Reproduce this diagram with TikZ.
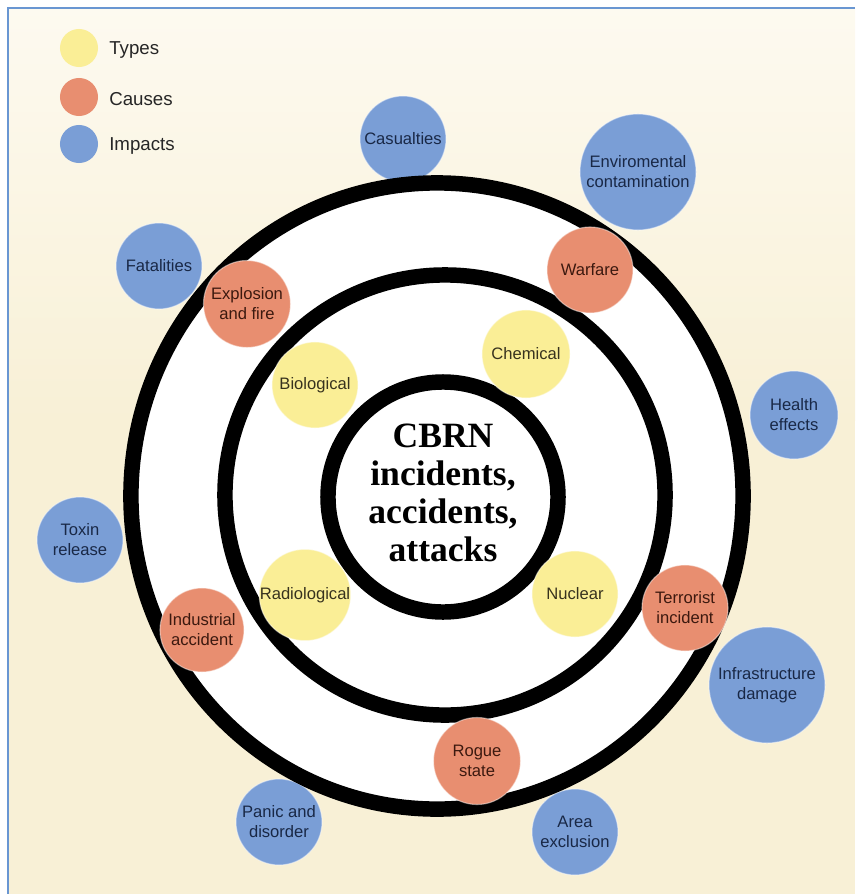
\documentclass[tikz,border=0pt]{standalone}
\usepackage{fontspec}
\setmainfont{Liberation Sans}
\newfontfamily\cbrnfont{Liberation Serif}
\definecolor{cream}{RGB}{248,240,214}
\definecolor{creamlight}{RGB}{253,250,240}
\definecolor{framecol}{RGB}{105,150,210}
\definecolor{typecol}{RGB}{250,238,150}
\definecolor{causecol}{RGB}{232,142,112}
\definecolor{impactcol}{RGB}{122,158,214}
\definecolor{typetext}{RGB}{55,50,30}
\definecolor{causetext}{RGB}{60,25,15}
\definecolor{impacttext}{RGB}{25,40,70}
\tikzset{
  bubble/.style={circle, inner sep=0pt, align=center, draw=white, draw opacity=0.45, line width=0.8pt,
    font=\fontsize{11.8}{14.2}\selectfont},
  typeb/.style={bubble, fill=typecol, text=typetext, minimum size=#1},
  causeb/.style={bubble, fill=causecol, text=causetext, minimum size=#1},
  impactb/.style={bubble, fill=impactcol, text=impacttext, minimum size=#1},
  legdot/.style={circle, inner sep=0pt, minimum size=0.95cm},
  legtext/.style={anchor=west, inner sep=0pt, text=black!85, font=\fontsize{13.3}{16}\selectfont},
  ring/.style={draw=black, line width=11pt},
  framel/.style={draw=framecol, line width=1.4pt}
}
\begin{document}
\begin{tikzpicture}[x=0.025cm,y=-0.025cm]
\useasboundingbox (0,0) rectangle (855,894);
% background
\fill[white] (0,0) rectangle (855,894);
\fill[cream] (8,8) rectangle (855,894);
\shade[top color=creamlight, bottom color=cream] (8,8) rectangle (855,420);
\draw[framel] (8,894) -- (8,8) -- (855,8);

% legend
\node[legdot, fill=typecol]   (lt) at (79,48) {};
\node[legdot, fill=causecol]  (lc) at (79,97) {};
\node[legdot, fill=impactcol] (li) at (79,144) {};
\node[legtext] (ltt) at (109,50) {Types};
\node[legtext] (lct) at (109,99) {Causes};
\node[legtext] (lit) at (109,146) {Impacts};

% white disk
\fill[white] (437,496) ellipse [x radius=7.65cm, y radius=7.825cm];

% impacts (behind rings)
\node[impactb=2.15cm] (cas) at (403,139) {Casualties};
\node[impactb=2.9cm]  (env) at (638,172) {Enviromental\\contamination};
\node[impactb=2.15cm] (fat) at (159,266) {Fatalities};
\node[impactb=2.2cm]  (hea) at (794,415) {Health\\effects};
\node[impactb=2.15cm] (tox) at (80,540) {Toxin\\release};
\node[impactb=2.9cm]  (inf) at (767,685) {Infrastructure\\damage};
\node[impactb=2.15cm] (pan) at (279,822) {Panic and\\disorder};
\node[impactb=2.15cm] (are) at (575,832) {Area\\exclusion};

% rings
\draw[ring] (437,496) ellipse [x radius=7.65cm, y radius=7.825cm];
\draw[ring] (445,495) circle [radius=5.5cm];
\draw[ring] (443,497) circle [radius=2.875cm];

% causes
\node[causeb=2.175cm] (exp) at (247,304) {Explosion\\and fire};
\node[causeb=2.15cm]  (war) at (590,270) {Warfare};
\node[causeb=2.15cm]  (ter) at (685,608) {Terrorist\\incident};
\node[causeb=2.1cm]   (ind) at (202,630) {Industrial\\accident};
\node[causeb=2.175cm] (rog) at (477,761) {Rogue\\state};

% types
\node[typeb=2.2cm]  (che) at (526,354) {Chemical};
\node[typeb=2.15cm] (bio) at (315,385) {Biological};
\node[typeb=2.15cm] (rad) at (305,595) {Radiological};
\node[typeb=2.15cm] (nuc) at (575,594) {Nuclear};

% centre
\node[align=center, inner sep=0pt, font=\cbrnfont\bfseries\fontsize{25.3}{27}\selectfont] (cbrn) at (443,493)
  {CBRN\\incidents,\\accidents,\\attacks};
\end{tikzpicture}
\end{document}
